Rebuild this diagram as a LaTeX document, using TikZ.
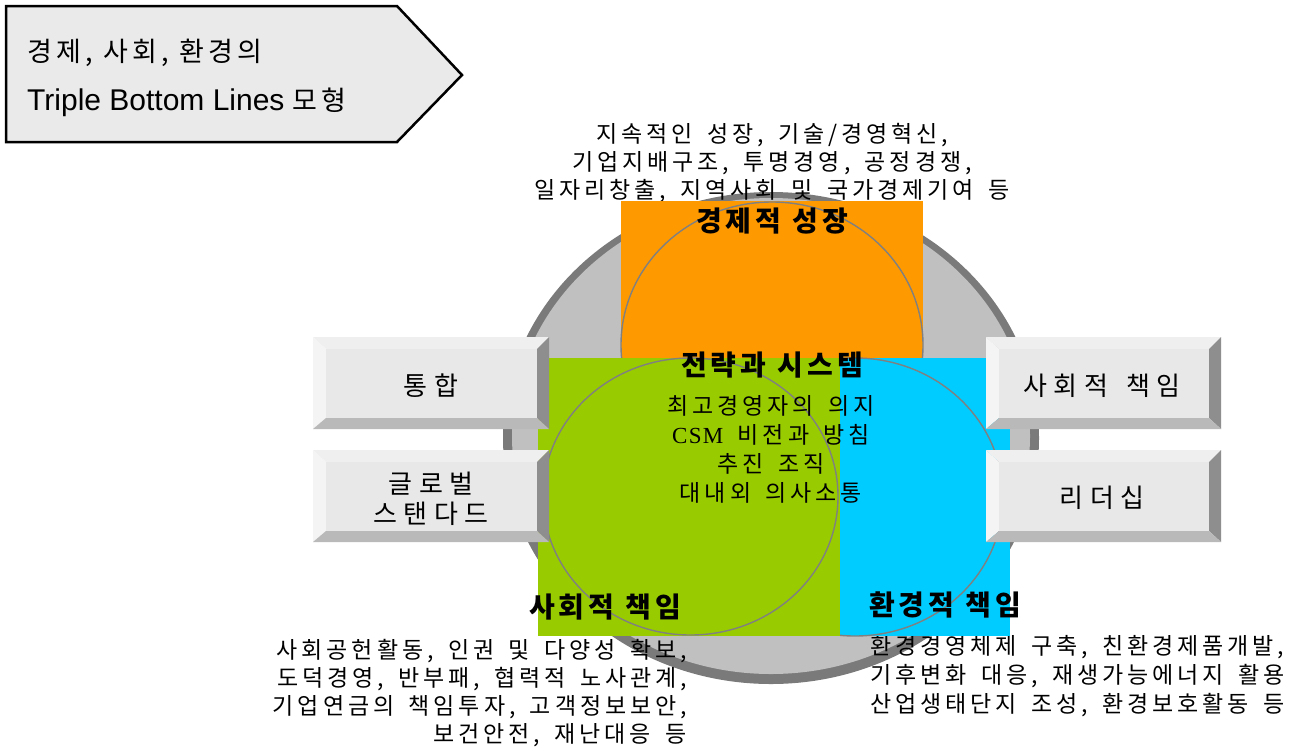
\documentclass[tikz,border=0pt]{standalone}
\usepackage{fontspec}
\setmainfont{Noto Sans CJK KR}
\newfontfamily\krr[LetterSpace=17,WordSpace=1.6]{Noto Sans CJK KR}
\newfontfamily\krs[LetterSpace=24,WordSpace=1.5]{Noto Sans CJK KR}
\newfontfamily\krt[LetterSpace=16]{Noto Sans CJK KR}
\newfontfamily\krb[LetterSpace=15]{Noto Sans CJK KR}
\newfontfamily\arialf{Liberation Sans}
\definecolor{pentfill}{HTML}{EAEAEA}
\definecolor{rimgray}{HTML}{7A7A7A}
\definecolor{discgray}{HTML}{C0C0C0}
\definecolor{orangef}{HTML}{FF9900}
\definecolor{greenf}{HTML}{99CC00}
\definecolor{bluef}{HTML}{00CCFF}
\definecolor{ringgray}{HTML}{808080}
\definecolor{btnface}{HTML}{E8E8E8}
\definecolor{btntop}{HTML}{EFEFEF}
\definecolor{btnleft}{HTML}{F4F4F4}
\definecolor{btnright}{HTML}{8E8E8E}
\definecolor{btnbottom}{HTML}{B9B9B9}
\newcommand\bevbtn[4]{%
  \fill[btntop] (#1,#2) -- (#3,#2) -- ({#3-12},{#2+12}) -- ({#1+13},{#2+12}) -- cycle;
  \fill[btnleft] (#1,#2) -- ({#1+13},{#2+12}) -- ({#1+13},{#4-11}) -- (#1,#4) -- cycle;
  \fill[btnright] (#3,#2) -- (#3,#4) -- ({#3-12},{#4-11}) -- ({#3-12},{#2+12}) -- cycle;
  \fill[btnbottom] (#1,#4) -- (#3,#4) -- ({#3-12},{#4-11}) -- ({#1+13},{#4-11}) -- cycle;
  \fill[btnface] ({#1+13},{#2+12}) rectangle ({#3-12},{#4-11});
}
\begin{document}
\begin{tikzpicture}[x=1pt,y=-1pt,
  bodytxt/.style={inner sep=0pt, font=\krr\fontsize{23}{28}\selectfont},
  headtxt/.style={inner sep=0pt, font=\krb\bfseries\fontsize{28}{32}\selectfont},
  btntxt/.style={inner sep=0pt, align=center, font=\krs\fontsize{26}{30}\selectfont},
  ring/.style={draw=ringgray, line width=1.4pt}]
\useasboundingbox[fill=white] (0,0) rectangle (1293,748);

% title pentagon
\draw[line width=2.5pt, fill=pentfill, line join=miter] (6,6) -- (397,6) -- (462,75) -- (397,142) -- (6,142) -- cycle;
\node[anchor=base west, inner sep=0pt, font=\krt\fontsize{27}{32}\selectfont] (title1) at (27,61) {경제, 사회, 환경의};
\node[anchor=base west, inner sep=0pt] (title2) at (27,110) {{\arialf\fontsize{30}{36}\selectfont Triple Bottom Lines }{\krt\fontsize{27}{32}\selectfont 모형}};

% big disc
\fill[rimgray] (771,438) ellipse [x radius=268pt, y radius=246pt];
\fill[discgray] (771,436) ellipse [x radius=259pt, y radius=238pt];

% top description
\node[bodytxt, align=center] (econtxt) at (772,163) {지속적인 성장, 기술/경영혁신,\\기업지배구조, 투명경영, 공정경쟁,\\일자리창출, 지역사회 및 국가경제기여 등};
% bottom descriptions
\node[bodytxt, align=right, anchor=east] (soctxt) at (687,693) {사회공헌활동, 인권 및 다양성 확보,\\도덕경영, 반부패, 협력적 노사관계,\\기업연금의 책임투자, 고객정보보안,\\보건안전, 재난대응 등};
\node[bodytxt, align=left, anchor=west, font=\krr\fontsize{23}{29}\selectfont] (envtxt) at (870,676) {환경경영체제 구축, 친환경제품개발,\\기후변화 대응, 재생가능에너지 활용\\산업생태단지 조성, 환경보호활동 등};

% coloured fields
\fill[orangef] (621,201) rectangle (923,358);
\draw[ring] (772,345) ellipse [x radius=151pt, y radius=143pt];
\fill[bluef] (840,358) rectangle (1010,636);
\draw[ring] (855,497) ellipse [x radius=148pt, y radius=139pt];
\fill[greenf] (538,358) rectangle (840,636);
\draw[ring] (690.5,496.5) ellipse [x radius=147.5pt, y radius=138.5pt];

% side buttons
\bevbtn{313}{337}{549}{429}
\bevbtn{313}{450}{549}{542}
\bevbtn{986}{337}{1221}{429}
\bevbtn{986}{450}{1221}{542}
\node[btntxt] (b1) at (431,386) {통합};
\node[btntxt] (b2) at (431,499) {글로벌\\스탠다드};
\node[btntxt] (b3) at (1102,386) {사회적 책임};
\node[btntxt] (b4) at (1102,498) {리더십};

% headings
\node[headtxt] (h1) at (772,221) {경제적 성장};
\node[headtxt] (h2) at (772,365) {전략과 시스템};
\node[headtxt] (h3) at (605,607) {사회적 책임};
\node[headtxt] (h4) at (945,605) {환경적 책임};

% centre text
\node[bodytxt, align=center, font=\krr\fontsize{23}{29}\selectfont] (ctr) at (771,449) {최고경영자의 의지\\{\fontspec{Liberation Serif}\addfontfeatures{LetterSpace=6}CSM} 비전과 방침\\추진 조직\\대내외 의사소통};
\end{tikzpicture}
\end{document}
